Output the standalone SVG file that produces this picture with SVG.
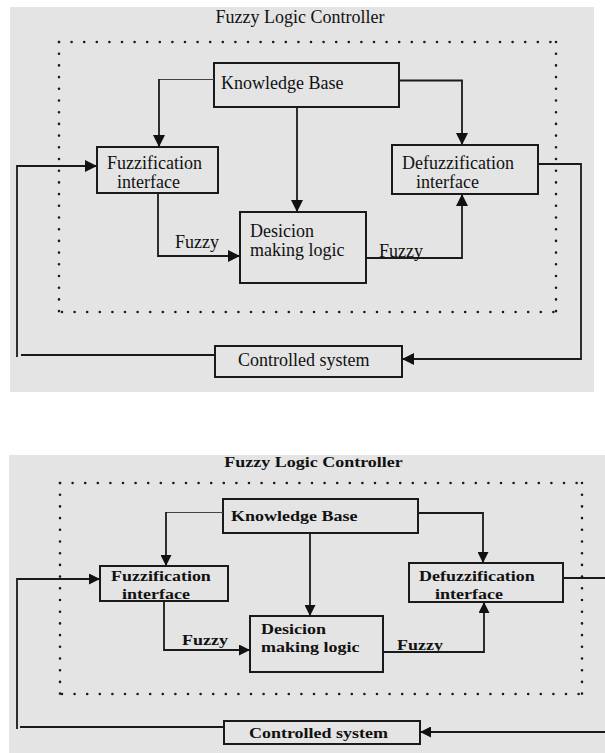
<svg xmlns="http://www.w3.org/2000/svg" width="605" height="753" viewBox="0 0 605 753">
<defs>
<style>
.bg{fill:#e4e4e4;stroke:none}
.box{fill:none;stroke:#1a1a1a;stroke-width:2}
.ln{fill:none;stroke:#1a1a1a;stroke-width:1.8}
.thin{fill:none;stroke:#444;stroke-width:1.2}
.dotsh{fill:none;stroke:#1a1a1a;stroke-width:2.6;stroke-linecap:round;stroke-dasharray:0 12.6}
.dotsv{fill:none;stroke:#1a1a1a;stroke-width:2.6;stroke-linecap:round;stroke-dasharray:0 11.7}
.t{font-family:"Liberation Serif","Times New Roman",serif;font-size:18px;fill:#111}
.b{font-weight:bold}
</style>
<marker id="ah" markerUnits="userSpaceOnUse" markerWidth="12" markerHeight="12" refX="12" refY="6" orient="auto">
<path d="M0,0 L12,6 L0,12 Z" fill="#111"/>
</marker>
<marker id="ah2" markerUnits="userSpaceOnUse" markerWidth="11" markerHeight="11" refX="11" refY="5.5" orient="auto">
<path d="M0,0 L11,5.5 L0,11 Z" fill="#111"/>
</marker>
</defs>

<!-- ===== Top panel ===== -->
<rect class="bg" x="10" y="7" width="584" height="385"/>
<g id="top-frame">
<text class="t" x="300" y="23" text-anchor="middle">Fuzzy Logic Controller</text>
<line class="dotsh" x1="59" y1="42" x2="556" y2="42"/>
<line class="dotsh" x1="62" y1="312" x2="556" y2="312"/>
<line class="dotsv" x1="59" y1="42" x2="59" y2="312"/>
<line class="dotsv" x1="556" y1="42" x2="556" y2="312"/>
</g>
<g id="top-kb">
<rect class="box" x="214" y="63" width="185" height="44"/>
<text class="t" x="221" y="89">Knowledge Base</text>
</g>
<g id="top-fuzz">
<rect class="box" x="97" y="147" width="121" height="46"/>
<text class="t" x="107" y="169">Fuzzification</text>
<text class="t" x="117" y="188">interface</text>
</g>
<g id="top-defuzz">
<rect class="box" x="392" y="145" width="146" height="49"/>
<text class="t" x="402" y="169">Defuzzification</text>
<text class="t" x="416" y="188">interface</text>
</g>
<g id="top-dml">
<rect class="box" x="240" y="212" width="126" height="71"/>
<text class="t" x="250" y="237">Desicion</text>
<text class="t" x="250" y="256">making logic</text>
</g>
<g id="top-cs">
<rect class="box" x="215" y="346" width="187" height="31"/>
<text class="t" x="238" y="366">Controlled system</text>
</g>
<g id="top-connectors">
<path class="thin" d="M214,79.5 H159"/>
<path class="ln" d="M159,79 V147" marker-end="url(#ah)"/>
<path class="ln" d="M399,80.5 H462 V145" marker-end="url(#ah)"/>
<path class="ln" d="M297,107 V212" marker-end="url(#ah)"/>
<path class="ln" d="M158,193 V256 H240" marker-end="url(#ah)"/>
<path class="ln" d="M366,258 H462 V194" marker-end="url(#ah)"/>
<path class="ln" d="M538,164 H581 V359 H402" marker-end="url(#ah)"/>
<path class="ln" d="M215,355 H21"/>
<path class="ln" d="M17,357 V166 H97" marker-end="url(#ah)"/>
<text class="t" x="175" y="248">Fuzzy</text>
<text class="t" x="379" y="257">Fuzzy</text>
</g>

<!-- ===== Bottom panel ===== -->
<rect class="bg" x="9" y="455" width="596" height="298"/>
<g id="bot-frame">
<text class="t b" transform="translate(313.5 467) scale(1 0.85)" text-anchor="middle">Fuzzy Logic Controller</text>
<line class="dotsh" x1="60" y1="483" x2="582" y2="483"/>
<line class="dotsh" x1="62" y1="694" x2="582" y2="694"/>
<line class="dotsv" x1="60" y1="483" x2="60" y2="694"/>
<line class="dotsv" x1="582" y1="483" x2="582" y2="694"/>
</g>
<g id="bot-kb">
<rect class="box" x="223" y="499" width="195" height="34"/>
<text class="t b" transform="translate(231 521) scale(1 0.85)">Knowledge Base</text>
</g>
<g id="bot-fuzz">
<rect class="box" x="100" y="566" width="128" height="35"/>
<text class="t b" transform="translate(111 581) scale(1 0.85)">Fuzzification</text>
<text class="t b" transform="translate(122 599) scale(1 0.85)">interface</text>
</g>
<g id="bot-defuzz">
<rect class="box" x="409" y="563" width="154" height="39"/>
<text class="t b" transform="translate(419 581) scale(1 0.85)">Defuzzification</text>
<text class="t b" transform="translate(435 599) scale(1 0.85)">interface</text>
</g>
<g id="bot-dml">
<rect class="box" x="250" y="616" width="133" height="56"/>
<text class="t b" transform="translate(261 634) scale(1 0.85)">Desicion</text>
<text class="t b" transform="translate(261 652) scale(1 0.85)">making logic</text>
</g>
<g id="bot-cs">
<rect class="box" x="224" y="721" width="196" height="23"/>
<text class="t b" transform="translate(249 738) scale(1 0.85)">Controlled system</text>
</g>
<g id="bot-connectors">
<path class="thin" d="M223,512.5 H166"/>
<path class="ln" d="M166,512 V566" marker-end="url(#ah2)"/>
<path class="ln" d="M418,513 H483 V563" marker-end="url(#ah2)"/>
<path class="ln" d="M310,533 V616" marker-end="url(#ah2)"/>
<path class="ln" d="M164,601 V650 H250" marker-end="url(#ah2)"/>
<path class="ln" d="M383,652 H484 V602" marker-end="url(#ah2)"/>
<path class="ln" d="M563,578 H606"/>
<path class="ln" d="M606,732 H420" marker-end="url(#ah2)"/>
<path class="ln" d="M224,727 H20"/>
<path class="ln" d="M17,729 V579 H100" marker-end="url(#ah2)"/>
<text class="t b" transform="translate(182 645) scale(1 0.85)">Fuzzy</text>
<text class="t b" transform="translate(397 650) scale(1 0.85)">Fuzzy</text>
</g>
</svg>
